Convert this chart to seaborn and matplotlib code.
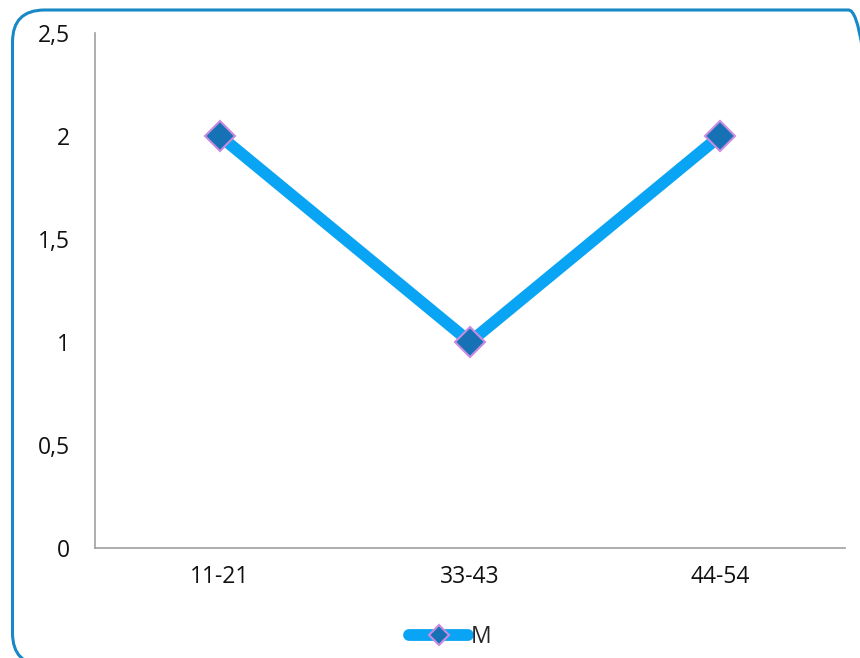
import matplotlib
matplotlib.use('Agg')
import matplotlib.pyplot as plt
import matplotlib.ticker as mticker
from matplotlib.patches import FancyBboxPatch
import seaborn as sns
import pandas as pd

# данные
categories = ['11-21', '33-43', '44-54']
values_m = [2, 1, 2]
y_ticks = [0, 0.5, 1, 1.5, 2, 2.5]

sns.set_style('white')
plt.rcParams['font.family'] = ['Open Sans', 'DejaVu Sans']

df = pd.DataFrame({'group': categories, 'M': values_m})

fig = plt.figure(figsize=(8.6, 6.58), dpi=100)
ax = fig.add_axes([95 / 860, 1 - 548 / 658, 750 / 860, 515 / 658])

sns.lineplot(data=df, x='group', y='M', ax=ax, sort=False,
             color='#0aa4f4', linewidth=8.5, marker='D', markersize=15,
             markerfacecolor='#1672b4', markeredgecolor='#c98ae0',
             markeredgewidth=1.5, label='M')

ax.set_xlim(-0.5, 2.5)
ax.set_ylim(0, 2.5)
ax.set_yticks(y_ticks)
ax.yaxis.set_major_formatter(mticker.FuncFormatter(
    lambda v, p: f'{v:g}'.replace('.', ',')))
ax.set_xlabel('')
ax.set_ylabel('')
ax.tick_params(axis='both', length=0, labelsize=16.5, colors='#111111')
ax.tick_params(axis='x', pad=12)
ax.tick_params(axis='y', pad=18)
for side in ['top', 'right']:
    ax.spines[side].set_visible(False)
for side in ['left', 'bottom']:
    ax.spines[side].set_color('#a0a0a0')
    ax.spines[side].set_linewidth(1.2)

leg = ax.legend(loc='center', bbox_to_anchor=(450 / 860, 1 - 637 / 658),
                bbox_transform=fig.transFigure, frameon=False, fontsize=16.5,
                handlelength=2.6, handletextpad=0.1, markerscale=0.7)

# рамка со скруглёнными углами (в дюймах), правый и нижний край за пределами
frame = FancyBboxPatch((0.125, -0.07), 8.68, 6.55,
                       boxstyle='round,pad=0,rounding_size=0.32',
                       transform=fig.dpi_scale_trans, fill=False,
                       edgecolor='#1888c6', linewidth=2.2, clip_on=False)
fig.patches.append(frame)

fig.savefig('out.png', dpi=100)
